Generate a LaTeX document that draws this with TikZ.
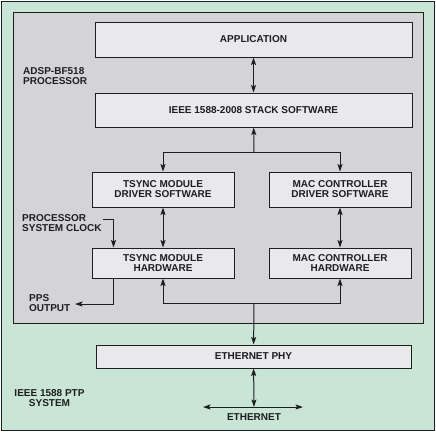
\documentclass[tikz,border=0pt]{standalone}
\usepackage{fontspec}
\setmainfont{Liberation Sans}
\usepackage{tikz}
\usetikzlibrary{positioning,arrows.meta}

\definecolor{systemGreen}{RGB}{201,229,213}
\definecolor{procGray}{RGB}{212,212,214}
\definecolor{blockGray}{RGB}{233,233,235}
\definecolor{lineGray}{RGB}{30,30,32}

\begin{document}
\begin{tikzpicture}[%
    x=1pt, y=-1pt,
    block/.style={%
        draw=lineGray,
        fill=blockGray,
        line width=1pt,
        align=center,
        inner sep=0pt,
        font=\fontsize{10}{10}\selectfont\bfseries,
        text=lineGray
    },
    label/.style={%
        inner sep=0pt,
        align=left,
        font=\fontsize{10}{10}\selectfont\bfseries,
        text=lineGray
    },
    link/.style={%
        draw=lineGray,
        line width=1pt
    },
    >={Stealth[length=7.5pt,width=5pt,inset=1.5pt]}
]
\useasboundingbox (0,0) rectangle (436,432);

% System and processor frames
    \draw[fill=systemGreen, draw=lineGray, line width=1pt] (1,1) rectangle (434,430);
    \draw[fill=procGray, draw=lineGray, line width=1pt] (13,12) rectangle (423,323);

% Software layers
    \node[block, minimum width=317pt, minimum height=35pt] (app) at (253.5,39.5) {APPLICATION};
    \node[block, minimum width=317pt, minimum height=34pt] (stack) at (253.5,110) {IEEE 1588-2008 STACK SOFTWARE};

% Drivers
    \node[block, minimum width=142pt, minimum height=35pt] (tsyncDrv) at (163,189.5) {TSYNC MODULE\\DRIVER SOFTWARE};
    \node[block, minimum width=142pt, minimum height=35pt] (macDrv) at (340,189.5) {MAC CONTROLLER\\DRIVER SOFTWARE};

% Hardware
    \node[block, minimum width=142pt, minimum height=30pt] (tsyncHw) at (163,263) {TSYNC MODULE\\HARDWARE};
    \node[block, minimum width=142pt, minimum height=30pt] (macHw) at (340,263) {MAC CONTROLLER\\HARDWARE};

% PHY
    \node[block, minimum width=315pt, minimum height=23pt] (phy) at (253.5,356.5) {ETHERNET PHY};

% Labels
    \node[label, anchor=west] (procLabel) at (23,76) {ADSP-BF518\\PROCESSOR};
    \node[label, anchor=west] (clkLabel) at (22,223.5) {PROCESSOR\\SYSTEM CLOCK};
    \node[label, anchor=west] (ppsLabel) at (29,303) {PPS\\OUTPUT};
    \node[label, align=center] (sysLabel) at (49.5,398) {IEEE 1588 PTP\\SYSTEM};
    \node[label] (ethLabel) at (254,417) {ETHERNET};

% Junctions
    \coordinate (swBranch) at (254,152);
    \coordinate (hwBranch) at (254,303);
    \coordinate (clkIn) at (103,219);
    \coordinate (ppsOut) at (75,304);
    \coordinate (ethJoin) at (254,407);
    \coordinate (ethLeft) at (203,407);
    \coordinate (ethRight) at (303,407);

% Arrows
\draw[link, <->] (app) -- (stack);

\draw[link, ->] (swBranch) -- (stack);
\draw[link, ->] (swBranch) -| (tsyncDrv);
\draw[link, ->] (swBranch) -| (macDrv);

\draw[link, <->] (tsyncDrv) -- (tsyncHw);
\draw[link, <->] (macDrv) -- (macHw);

\draw[link, ->] (clkIn) -| ([xshift=22pt]tsyncHw.north west);
\draw[link, ->] ([xshift=22pt]tsyncHw.south west) |- (ppsOut);

\draw[link, ->] (hwBranch) -| (tsyncHw);
\draw[link, ->] (hwBranch) -| (macHw);
\draw[link, ->] (hwBranch) -- (phy);

\draw[link, <->] (phy) -- (ethJoin);
\draw[link, <->] (ethLeft) -- (ethRight);

\end{tikzpicture}
\end{document}
